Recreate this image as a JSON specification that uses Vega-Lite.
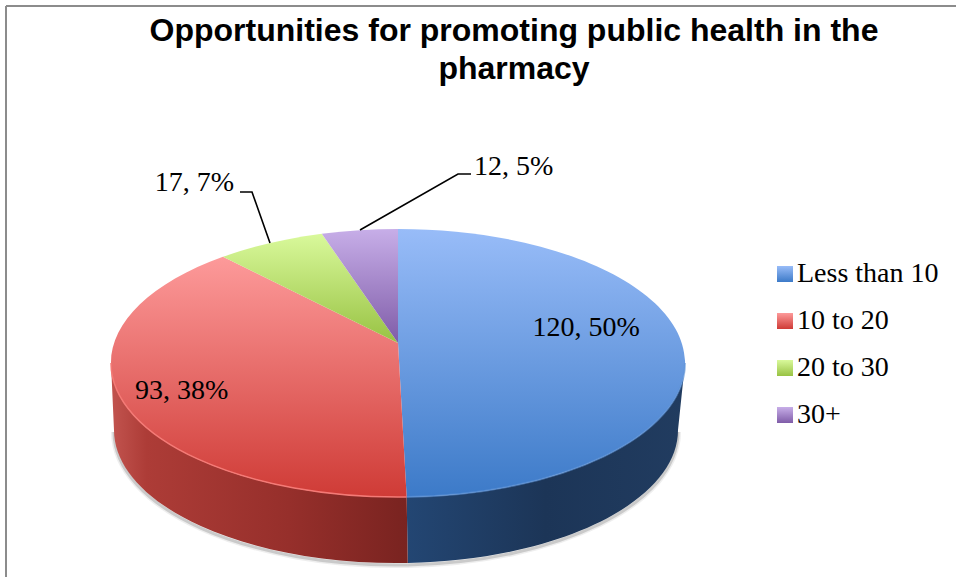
{
  "$schema": "https://vega.github.io/schema/vega-lite/v6.json",
  "width": 956,
  "height": 577,
  "padding": 0,
  "autosize": {"type": "none"},
  "background": "white",
  "config": {"view": {"stroke": null}},
  "title": {
    "text": ["Opportunities for promoting public health in the", "pharmacy"],
    "font": "Liberation Sans",
    "fontSize": 32,
    "fontWeight": "bold",
    "color": "black",
    "anchor": "middle",
    "frame": "group",
    "dx": 36,
    "baseline": "top",
    "lineHeight": 38,
    "offset": -86
  },
  "data": {
    "values": [
      {"rank": 1, "category": "Less than 10", "value": 120},
      {"rank": 2, "category": "10 to 20", "value": 93},
      {"rank": 3, "category": "20 to 30", "value": 17},
      {"rank": 4, "category": "30+", "value": 12}
    ]
  },
  "transform": [
    {"joinaggregate": [{"op": "sum", "field": "value", "as": "total"}]},
    {"stack": "value", "sort": [{"field": "rank", "order": "ascending"}], "as": ["v0", "v1"]},
    {"calculate": "398", "as": "cx"},
    {"calculate": "363", "as": "cy"},
    {"calculate": "2*PI*datum.v0/datum.total", "as": "t0"},
    {"calculate": "2*PI*datum.v1/datum.total", "as": "t1"},
    {"calculate": "(datum.t0+datum.t1)/2", "as": "tm"},
    {"calculate": "sin(datum.t0)*0.98884/(1+0.149*cos(datum.t0))", "as": "xu0"},
    {"calculate": "(cos(datum.t0)+0.149)/(1+0.149*cos(datum.t0))", "as": "yu0"},
    {"calculate": "sin(datum.t1)*0.98884/(1+0.149*cos(datum.t1))", "as": "xu1"},
    {"calculate": "(cos(datum.t1)+0.149)/(1+0.149*cos(datum.t1))", "as": "yu1"},
    {"calculate": "287*sin(datum.tm)*0.98884/(1+0.149*cos(datum.tm))", "as": "Xm"},
    {"calculate": "-134*(cos(datum.tm)+0.149)/(1+0.149*cos(datum.tm))", "as": "Ym"},
    {"calculate": "round(28700*datum.xu0)/100", "as": "X0"},
    {"calculate": "round(-13400*datum.yu0)/100", "as": "Y0"},
    {"calculate": "round(28700*datum.xu1)/100", "as": "X1"},
    {"calculate": "round(-13400*datum.yu1)/100", "as": "Y1"},
    {"calculate": "atan2(datum.xu0,datum.yu0)", "as": "p0"},
    {"calculate": "atan2(datum.xu1,datum.yu1)", "as": "p1"},
    {"calculate": "((datum.p1<0?datum.p1+2*PI:datum.p1)-(datum.p0<0?datum.p0+2*PI:datum.p0))>PI?1:0", "as": "large"},
    {"calculate": "'M0,-20 L'+datum.X0+','+datum.Y0+' A287,134 0 '+datum.large+' 1 '+datum.X1+','+datum.Y1+' Z'", "as": "slicePath"},
    {"calculate": "datum.yu0<0?datum.X0:287", "as": "wx0"},
    {"calculate": "datum.yu0<0?datum.Y0:0", "as": "wy0"},
    {"calculate": "datum.yu1<0?datum.X1:-287", "as": "wx1"},
    {"calculate": "datum.yu1<0?datum.Y1:0", "as": "wy1"},
    {"calculate": "round(98.26*datum.wx0-200*abs(datum.wx0)/287)/100+(abs(datum.wx0)<20?0.15*datum.wx0:0)", "as": "bx0"},
    {"calculate": "round(99.25*datum.wy0)/100+67", "as": "by0"},
    {"calculate": "round(98.26*datum.wx1-200*abs(datum.wx1)/287)/100+(abs(datum.wx1)<20?0.15*datum.wx1:0)", "as": "bx1"},
    {"calculate": "round(99.25*datum.wy1)/100+67", "as": "by1"},
    {"calculate": "'M'+datum.wx0+','+datum.wy0+' A287,134 0 0 1 '+datum.wx1+','+datum.wy1", "as": "rimPath"},
    {"calculate": "'M'+datum.bx0+','+datum.by0+' A282,133 0 0 1 '+datum.bx1+','+datum.by1", "as": "footPath"},
    {"calculate": "datum.rimPath+' L'+datum.bx1+','+datum.by1+' A282,133 0 0 0 '+datum.bx0+','+datum.by0+' Z'", "as": "wallPath"},
    {"calculate": "{'Less than 10':[-95,-13],'10 to 20':[62,-5],'20 to 30':[-76,-60],'30+':[154,-63]}[datum.category]", "as": "off"},
    {"calculate": "398+datum.Xm+datum.off[0]", "as": "labelX"},
    {"calculate": "363+datum.Ym+datum.off[1]", "as": "labelY"},
    {"calculate": "datum.value+', '+round(100*datum.value/datum.total)+'%'", "as": "label"},
    {"calculate": "{'20 to 30':[-18,-51,-30],'30+':[98,-56,111]}[datum.category]", "as": "elbow"},
    {"calculate": "datum.elbow?'M'+round(datum.Xm)+','+round(datum.Ym)+' L'+round(datum.Xm+datum.elbow[0])+','+round(datum.Ym+datum.elbow[1])+' L'+round(datum.Xm+datum.elbow[2])+','+round(datum.Ym+datum.elbow[1]):''", "as": "leaderPath"}
  ],
  "encoding": {
    "x": {"field": "cx", "type": "quantitative", "axis": null, "scale": {"domain": [0, 956], "range": [0, 956], "nice": false, "zero": false}},
    "y": {"field": "cy", "type": "quantitative", "axis": null, "scale": {"domain": [0, 577], "range": [0, 577], "nice": false, "zero": false}}
  },
  "layer": [
    {
      "transform": [{"filter": "datum.yu0<0 || datum.yu1<0"}],
      "mark": {"type": "point", "filled": false, "stroke": "#777777", "strokeWidth": 6, "strokeOpacity": 0.12, "fillOpacity": 0, "size": 4},
      "encoding": {"y": {"datum": 365, "type": "quantitative"}, "shape": {"field": "footPath", "scale": null}}
    },
    {
      "transform": [{"filter": "datum.yu0<0 || datum.yu1<0"}],
      "mark": {"type": "point", "filled": false, "stroke": "#777777", "strokeWidth": 3, "strokeOpacity": 0.3, "fillOpacity": 0, "size": 4},
      "encoding": {"y": {"datum": 365, "type": "quantitative"}, "shape": {"field": "footPath", "scale": null}}
    },
    {
      "transform": [{"filter": "datum.rank==1"}],
      "mark": {
        "type": "point", "filled": true, "opacity": 1, "size": 4,
        "fill": {"gradient": "linear", "x1": 0, "y1": 0, "x2": 1, "y2": 0, "stops": [
          {"offset": 0, "color": "#234673"},
          {"offset": 0.5, "color": "#1c3557"},
          {"offset": 1, "color": "#213c60"}
        ]}
      },
      "encoding": {"shape": {"field": "wallPath", "scale": null}}
    },
    {
      "transform": [{"filter": "datum.rank==2"}],
      "mark": {
        "type": "point", "filled": true, "opacity": 1, "size": 4,
        "fill": {"gradient": "linear", "x1": 0, "y1": 0, "x2": 1, "y2": 0, "stops": [
          {"offset": 0, "color": "#c2544f"},
          {"offset": 0.12, "color": "#ad3c37"},
          {"offset": 0.6, "color": "#962f2b"},
          {"offset": 1, "color": "#792320"}
        ]}
      },
      "encoding": {"shape": {"field": "wallPath", "scale": null}}
    },
    {
      "mark": {"type": "point", "filled": true, "opacity": 1, "size": 4},
      "encoding": {
        "shape": {"field": "slicePath", "scale": null},
        "fill": {
          "field": "category",
          "type": "nominal",
          "scale": {
            "domain": ["Less than 10", "10 to 20", "20 to 30", "30+"],
            "range": [
              {"expr": "{gradient:'linear',x1:0,y1:0,x2:0,y2:1,stops:[{offset:0,color:'#98bcf8'},{offset:1,color:'#3c7ac8'}]}"},
              {"expr": "{gradient:'linear',x1:0,y1:0,x2:0,y2:1,stops:[{offset:0,color:'#fd9a9a'},{offset:1,color:'#cf3b36'}]}"},
              {"expr": "{gradient:'linear',x1:0,y1:0,x2:0,y2:1,stops:[{offset:0,color:'#d9f99b'},{offset:1,color:'#98c243'}]}"},
              {"expr": "{gradient:'linear',x1:0,y1:0,x2:0,y2:1,stops:[{offset:0,color:'#c7aee8'},{offset:1,color:'#7f5ca8'}]}"}
            ]
          },
          "legend": {
            "title": null,
            "orient": "none",
            "legendX": 771,
            "legendY": 260,
            "padding": 0,
            "symbolType": "square",
            "symbolSize": 256,
            "symbolStrokeWidth": 0,
            "labelFont": "Liberation Serif",
            "labelFontSize": 28,
            "labelColor": "black",
            "labelOffset": -2,
            "labelLimit": 200,
            "rowPadding": 19
          }
        }
      }
    },
    {
      "transform": [{"filter": "datum.rank==2"}],
      "mark": {"type": "point", "filled": false, "stroke": "#f47a76", "strokeWidth": 1.5, "fillOpacity": 0, "size": 4},
      "encoding": {"shape": {"field": "rimPath", "scale": null}}
    },
    {
      "transform": [{"filter": "datum.rank==1"}],
      "mark": {"type": "point", "filled": false, "stroke": "#5f94d8", "strokeWidth": 2, "strokeOpacity": 0.6, "fillOpacity": 0, "size": 4},
      "encoding": {"shape": {"field": "rimPath", "scale": null}}
    },
    {
      "transform": [{"filter": "datum.leaderPath!=''"}],
      "mark": {"type": "point", "filled": false, "stroke": "black", "strokeWidth": 1.6, "fillOpacity": 0, "size": 4},
      "encoding": {"shape": {"field": "leaderPath", "scale": null}}
    },
    {
      "mark": {"type": "text", "font": "Liberation Serif", "fontSize": 28, "color": "black", "align": "center", "baseline": "middle"},
      "encoding": {
        "x": {"field": "labelX", "type": "quantitative"},
        "y": {"field": "labelY", "type": "quantitative"},
        "text": {"field": "label"}
      }
    },
    {
      "transform": [{"filter": "datum.rank==1"}],
      "mark": {"type": "rule", "color": "#8c8c8c", "strokeWidth": 2},
      "encoding": {"x": {"datum": 6, "type": "quantitative"}, "y": {"datum": 6, "type": "quantitative"}, "y2": {"datum": 577}}
    },
    {
      "transform": [{"filter": "datum.rank==1"}],
      "mark": {"type": "rule", "color": "#8c8c8c", "strokeWidth": 2},
      "encoding": {"x": {"datum": 6, "type": "quantitative"}, "x2": {"datum": 956}, "y": {"datum": 6, "type": "quantitative"}}
    }
  ]
}
